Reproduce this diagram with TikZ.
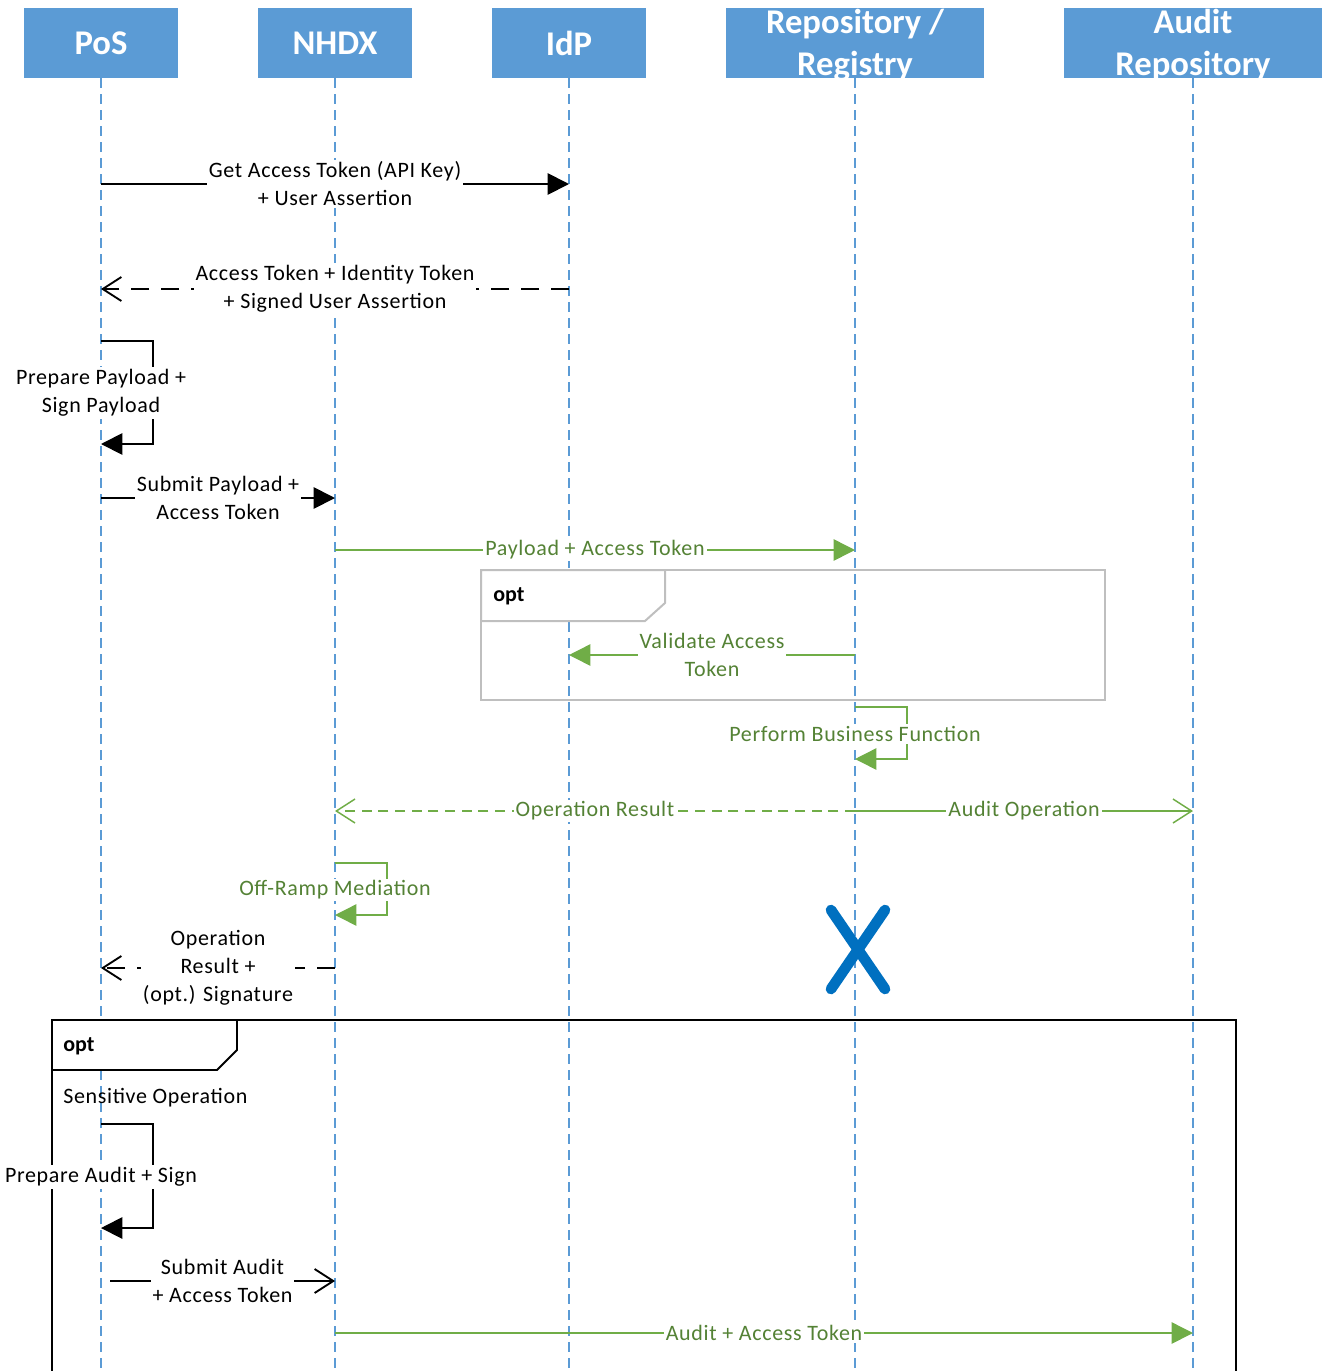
\documentclass[tikz,border=0pt]{standalone}
\usepackage{fontspec}
\setmainfont{Carlito}
\newfontfamily\lblfont{Carlito}[LetterSpace=3]
\usetikzlibrary{arrows.meta}
\definecolor{hdr}{RGB}{91,155,213}
\definecolor{gline}{RGB}{112,173,71}
\definecolor{gtext}{RGB}{84,130,53}
\definecolor{xblue}{RGB}{0,112,192}
\definecolor{frgray}{RGB}{191,191,191}
\begin{document}
\begin{tikzpicture}[x=0.75pt,y=-0.75pt,
  hbox/.style={fill=hdr,draw=none,minimum height=52.5pt,inner sep=0pt},
  htext/.style={text=white,align=center,font=\fontsize{26}{31.5}\selectfont\bfseries},
  lifeline/.style={draw=hdr,line width=1.1pt,dash pattern=on 7.5pt off 4.5pt},
  msg/.style={line width=1.4pt,black},
  gmsg/.style={line width=1.1pt,gline},
  ftip/.style={-{Triangle[length=16pt,width=16pt]}},
  otip/.style={-{Straight Barb[length=14pt,width=18pt]}},
  bdash/.style={dash pattern=on 13.5pt off 9pt},
  gdash/.style={dash pattern=on 7.5pt off 5pt},
  lbl/.style={fill=white,inner sep=1.5pt,align=center,font=\lblfont\fontsize{16.5}{21}\selectfont},
  glbl/.style={lbl,text=gtext},
  optlbl/.style={anchor=west,inner sep=0pt,font=\fontsize{16.5}{21}\selectfont\bfseries}
]
\useasboundingbox (0,0) rectangle (1330,1371);

% participant headers
\node[hbox,minimum width=115.5pt] (pos) at (101,43) {};
\node[hbox,minimum width=115.5pt] (nhdx) at (335,43) {};
\node[hbox,minimum width=115.5pt] (idp) at (569,43) {};
\node[hbox,minimum width=193.5pt] (repo) at (855,43) {};
\node[hbox,minimum width=193.5pt] (audit) at (1193,43) {};
\node[htext] at (pos) {PoS};
\node[htext] at (nhdx) {NHDX};
\node[htext] at (idp) {IdP};
\node[htext,yshift=-1.5pt] at (repo) {Repository /\\Registry};
\node[htext,yshift=-1.5pt] at (audit) {Audit\\Repository};

% lifelines
\coordinate (posE) at (101,1371);
\coordinate (nhdxE) at (335,1371);
\coordinate (idpE) at (569,1371);
\coordinate (repoE) at (855,1371);
\coordinate (auditE) at (1193,1371);
\draw[lifeline] (pos.south) -- (posE);
\draw[lifeline] (nhdx.south) -- (nhdxE);
\draw[lifeline] (idp.south) -- (idpE);
\draw[lifeline] (repo.south) -- (repoE);
\draw[lifeline] (audit.south) -- (auditE);

% inner opt fragment (grey)
\draw[frgray,line width=1.5pt] (481,570) rectangle (1105,700);
\filldraw[fill=white,draw=frgray,line width=1.5pt] (481,570) -- (665,570) -- (665,603) -- (645,621) -- (481,621) -- cycle;
\node[optlbl] (opt1) at (493,596) {opt};

% outer opt fragment (black)
\draw[black,line width=1.4pt] (52,1371) -- (52,1020) -- (1236,1020) -- (1236,1371);
\filldraw[fill=white,draw=black,line width=1.4pt] (52,1020) -- (237,1020) -- (237,1050) -- (217,1070) -- (52,1070) -- cycle;
\node[optlbl] (opt2) at (63,1046) {opt};
\node[anchor=west,inner sep=0pt,font=\lblfont\fontsize{16.5}{21}\selectfont] (sens) at (63,1098) {Sensitive Operation};

% token request
\coordinate (m1a) at (101,184); \coordinate (m1b) at (569,184);
\draw[msg,ftip] (m1a) -- node[lbl]{Get Access Token (API Key)\\+ User Assertion} (m1b);

\coordinate (m2a) at (569,289); \coordinate (m2b) at (101,289);
\draw[msg,bdash,otip] (m2a) -- node[lbl]{Access Token + Identity Token\\+ Signed User Assertion} (m2b);

% prepare payload (self call)
\coordinate (s1a) at (101,341); \coordinate (s1b) at (101,444);
\draw[msg,ftip] (s1a) -- ++(52,0) |- (s1b);
\node[lbl] (s1l) at (101,393) {Prepare Payload +\\Sign Payload};

\coordinate (m3a) at (101,498); \coordinate (m3b) at (335,498);
\draw[msg,ftip] (m3a) -- node[lbl]{Submit Payload +\\Access Token} (m3b);

% forwarded payload
\coordinate (m4a) at (335,550); \coordinate (m4b) at (855,550);
\draw[gmsg,ftip] (m4a) -- node[glbl]{Payload + Access Token} (m4b);

\coordinate (m5a) at (855,655); \coordinate (m5b) at (569,655);
\draw[gmsg,ftip] (m5a) -- node[glbl]{Validate Access\\Token} (m5b);

% business function (self call)
\coordinate (s2a) at (855,707); \coordinate (s2b) at (855,759);
\draw[gmsg,ftip] (s2a) -- ++(52,0) |- (s2b);
\node[glbl] (s2l) at (855,734) {Perform Business Function};

% results
\coordinate (m6a) at (855,811); \coordinate (m6b) at (335,811); \coordinate (m6c) at (1193,811);
\draw[gmsg,gdash,otip] (m6a) -- node[glbl]{Operation Result} (m6b);
\draw[gmsg,otip] (m6a) -- node[glbl]{Audit Operation} (m6c);

% off-ramp mediation (self call)
\coordinate (s3a) at (335,863); \coordinate (s3b) at (335,915);
\draw[gmsg,ftip] (s3a) -- ++(52,0) |- (s3b);
\node[glbl] (s3l) at (335,890) {Off-Ramp Mediation};

\coordinate (m7a) at (335,968); \coordinate (m7b) at (101,968);
\draw[msg,bdash,otip] (m7a) -- node[lbl]{Operation\\Result +\\(opt.) Signature} (m7b);

% destruction of the repository lifeline
\coordinate (xa) at (831,910); \coordinate (xb) at (885,989);
\coordinate (xc) at (885,910); \coordinate (xd) at (831,989);
\draw[xblue,line width=8pt,line cap=round] (xa) -- (xb);
\draw[xblue,line width=8pt,line cap=round] (xc) -- (xd);

% audit (self call)
\coordinate (s4a) at (101,1124); \coordinate (s4b) at (101,1228);
\draw[msg,ftip] (s4a) -- ++(52,0) |- (s4b);
\node[lbl] (s4l) at (101,1177) {Prepare Audit + Sign};

\coordinate (m8a) at (110,1281); \coordinate (m8b) at (335,1281);
\draw[msg,otip] (m8a) -- node[lbl]{Submit Audit\\+ Access Token} (m8b);

\coordinate (m9a) at (335,1333); \coordinate (m9b) at (1193,1333);
\draw[gmsg,ftip] (m9a) -- node[glbl]{Audit + Access Token} (m9b);
\end{tikzpicture}
\end{document}
